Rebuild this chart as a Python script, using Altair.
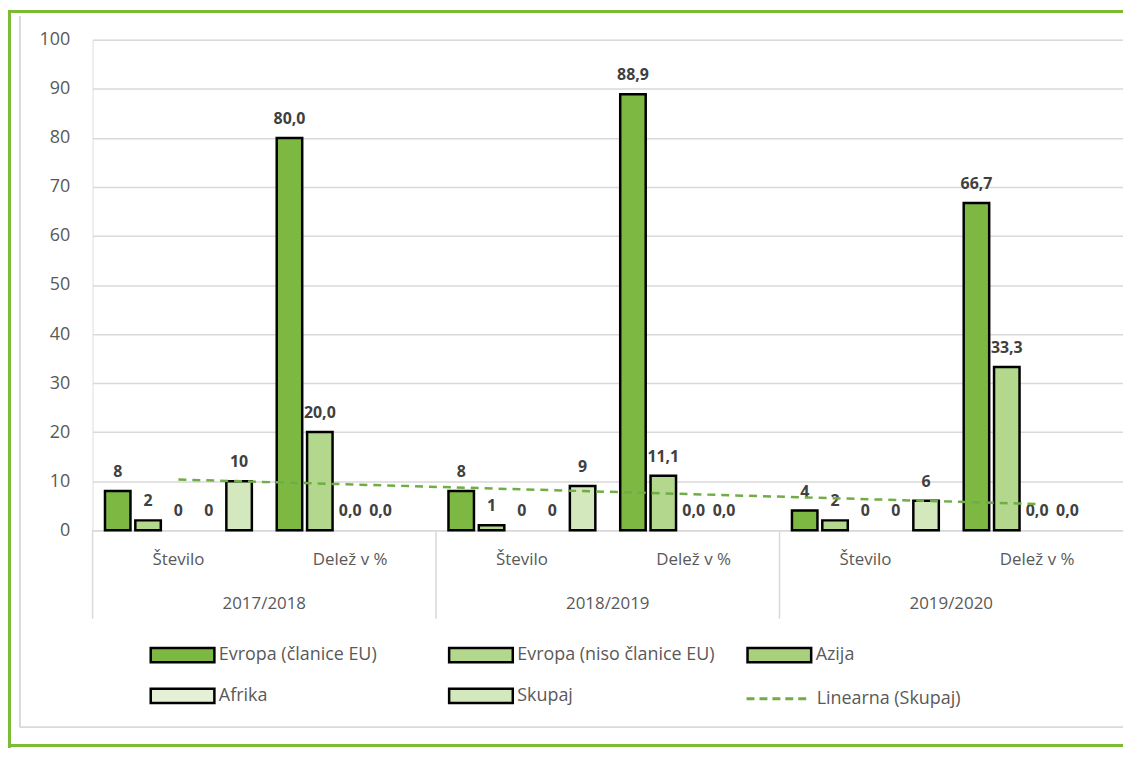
import json
import altair as alt
import pandas as pd

# ---------------- data ----------------
years = ["2017/2018", "2018/2019", "2019/2020"]
subs = ["Število", "Delež v %"]
series = ["Evropa (članice EU)", "Evropa (niso članice EU)", "Azija", "Afrika", "Skupaj"]
evropa_eu = [8, 80.0, 8, 88.9, 4, 66.7]
evropa_ne = [2, 20.0, 1, 11.1, 2, 33.3]
azija = [0, 0.0, 0, 0.0, 0, 0.0]
afrika = [0, 0.0, 0, 0.0, 0, 0.0]
skupaj = [10, None, 9, None, 6, None]
trend_name = "Linearna (Skupaj)"

# ---------------- style ----------------
FONT = "Open Sans"
colors = ["#7DB843", "#B4D78E", "#A9D07C", "#E4F1D6", "#D3E8BC"]
trend_color = "#70AD47"
frame_green = "#7DBB34"
grid_gray = "#D9D9D9"
text_gray = "#595959"
W, H = 1036, 493

cats = [f"{y}|{s}" for y in years for s in subs]
rows = []
for name, vals in zip(series, [evropa_eu, evropa_ne, azija, afrika, skupaj]):
    for ci, v in enumerate(vals):
        if v is None:
            continue
        rows.append({"cat": cats[ci], "idx": ci + 1, "sub": subs[ci % 2],
                     "series": name, "value": v})
df = pd.DataFrame(rows)
year_df = pd.DataFrame({"year": years})

xscale = alt.Scale(domain=cats, paddingInner=0, paddingOuter=0)
yscale = alt.Scale(domain=[0, 100], nice=False)
offscale = alt.Scale(domain=series, paddingInner=0.16, paddingOuter=0.41)

x_axis = alt.Axis(title=None, labelExpr="split(datum.label, '|')[1]", ticks=False,
                  domainColor=grid_gray, domainWidth=1.5, labelFont=FONT,
                  labelFontSize=17, labelColor=text_gray, labelPadding=21,
                  labelAngle=0, grid=False)
y_axis = alt.Axis(title=None, values=list(range(0, 101, 10)), grid=True,
                  gridColor=grid_gray, gridWidth=1.5, domain=False, ticks=False,
                  labelPadding=23, labelFont=FONT, labelFontSize=18,
                  labelColor=text_gray)

base = alt.Chart(df)

bars = base.transform_filter("datum.value > 0").mark_bar(
    stroke="black", strokeWidth=2.5
).encode(
    x=alt.X("cat:N", scale=xscale, axis=x_axis),
    xOffset=alt.XOffset("series:N", scale=offscale),
    y=alt.Y("value:Q", scale=yscale, axis=y_axis),
    fill=alt.Fill("series:N", scale=alt.Scale(domain=series, range=colors),
                  legend=alt.Legend(
                      title=None, orient="none", legendX=81, legendY=609,
                      direction="horizontal", columns=3,
                      symbolType="M-4,-0.9H4V0.9H-4Z", symbolSize=256,
                      symbolStrokeColor="black", symbolStrokeWidth=2.5,
                      symbolOpacity=1, labelFont=FONT, labelFontSize=18,
                      labelColor=text_gray, labelOffset=27, labelLimit=400,
                      columnPadding=27, rowPadding=16, gridAlign="all", padding=0)),
)

labels = base.transform_calculate(
    label="datum.sub == 'Število' ? format(datum.value, 'd') : "
          "replace(format(datum.value, '.1f'), '.', ',')"
).mark_text(font=FONT, fontSize=16, fontWeight="bold", color="#404040",
            baseline="alphabetic", dy=-14).encode(
    x=alt.X("cat:N", scale=xscale, axis=x_axis),
    xOffset=alt.XOffset("series:N", scale=offscale),
    y=alt.Y("value:Q", scale=yscale, axis=y_axis),
    text="label:N",
)

trend = base.transform_filter(
    "datum.series == 'Skupaj'"
).transform_regression(
    "idx", "value", method="linear", extent=[1, 6]
).transform_calculate(
    cat=f"{json.dumps(cats, ensure_ascii=False)}[round(datum.idx) - 1]",
    name=f"'{trend_name}'",
).mark_line(strokeDash=[8, 6], strokeWidth=2.5).encode(
    x=alt.X("cat:N", scale=xscale, axis=x_axis),
    y=alt.Y("value:Q", scale=yscale, axis=y_axis),
    stroke=alt.Stroke("name:N", scale=alt.Scale(domain=[trend_name], range=[trend_color]),
                      legend=alt.Legend(
                          title=None, orient="none", legendX=680, legendY=653,
                          symbolType="M-4,0H4", symbolSize=256, symbolStrokeWidth=3,
                          symbolDash=[8, 5], labelFont=FONT, labelFontSize=18,
                          labelColor=text_gray, labelOffset=29, labelLimit=400,
                          padding=0)),
)

year_text = alt.Chart(year_df).transform_calculate(
    cat="datum.year + '|Število'"
).mark_text(font=FONT, fontSize=17, color=text_gray, baseline="middle").encode(
    x=alt.X("cat:N", scale=xscale, bandPosition=1, axis=x_axis),
    y=alt.value(567),
    text="year:N",
)

separators = alt.Chart(year_df).transform_calculate(
    cat="datum.year + '|Število'"
).mark_rule(color=grid_gray, strokeWidth=1.5).encode(
    x=alt.X("cat:N", scale=xscale, bandPosition=0, axis=x_axis),
    y=alt.value(H),
    y2=alt.value(H + 89),
)

one = alt.Chart(pd.DataFrame({"k": [0]}))
frame = alt.layer(
    one.mark_rect(fill=frame_green).encode(x=alt.value(-85), x2=alt.value(W + 10),
                                             y=alt.value(-30), y2=alt.value(-27)),
    one.mark_rect(fill=frame_green).encode(x=alt.value(-85), x2=alt.value(-82),
                                             y=alt.value(-30), y2=alt.value(712)),
    one.mark_rect(fill=frame_green).encode(x=alt.value(-85), x2=alt.value(W + 10),
                                             y=alt.value(708), y2=alt.value(711)),
    one.mark_rule(color=grid_gray, strokeWidth=2).encode(x=alt.value(-73),
                                                          y=alt.value(-24), y2=alt.value(691)),
    one.mark_rule(color=grid_gray, strokeWidth=2).encode(x=alt.value(-73), x2=alt.value(W + 10),
                                                          y=alt.value(691)),
)

chart = alt.layer(frame, separators, bars, labels, trend, year_text).properties(
    width=W, height=H,
    padding={"left": 85, "top": 30, "right": 0, "bottom": 219},
    autosize=alt.AutoSizeParams(type="none"),
).resolve_scale(fill="independent", stroke="independent").configure_view(
    stroke=None
).configure(font=FONT)

chart.save("out.html", embed_options={"renderer": "svg", "actions": False})
